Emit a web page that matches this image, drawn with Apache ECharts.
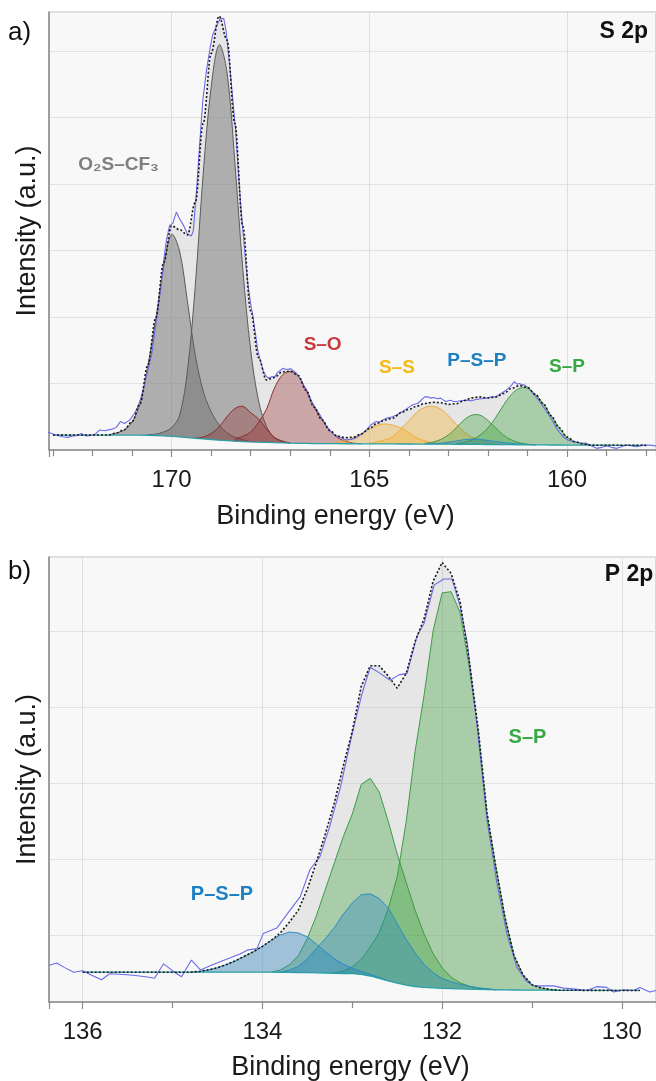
<!DOCTYPE html>
<html><head><meta charset="utf-8">
<script src="https://cdn.jsdelivr.net/npm/echarts@6/dist/echarts.min.js"></script>
<style>html,body{margin:0;padding:0;background:#fff}#c{width:656px;height:1081px}</style>
</head><body><div id="c"></div><script>
// ---------- Panel a) S 2p ----------
const E_S = [173.0,172.8,172.6,172.4,172.2,172.0,171.8,171.6,171.4,171.2,171.0,170.8,170.6,170.4,170.2,170.0,169.8,169.6,169.4,169.2,169.0,168.8,168.6,168.4,168.2,168.0,167.8,167.6,167.4,167.2,167.0,166.8,166.6,166.4,166.2,166.0,165.8,165.6,165.4,165.2,165.0,164.8,164.6,164.4,164.2,164.0,163.8,163.6,163.4,163.2,163.0,162.8,162.6,162.4,162.2,162.0,161.8,161.6,161.4,161.2,161.0,160.8,160.6,160.4,160.2,160.0,159.8,159.6,159.4,159.2,159.0,158.8,158.6,158.4,158.2,158.0];
const BG_S = [.225,.225,.225,.225,.225,.225,.225,.225,.225,.224,.224,.223,.222,.218,.212,.205,.196,.186,.176,.166,.157,.148,.140,.133,.127,.122,.118,.114,.110,.107,.104,.101,.099,.097,.096,.095,.095,.094,.094,.093,.093,.092,.092,.091,.090,.090,.089,.089,.088,.087,.087,.086,.085,.085,.084,.083,.082,.081,.080,.079,.078,.077,.076,.075,.075,.074,.074,.073,.073,.072,.072,.072,.071,.071,.071,.070];
const S_CF3_A = {from:171.6, amp:[0,0.03,0.08,0.2,0.47,1.05,1.75,2.55,3.04,2.8,2.05,1.25,0.72,0.42,0.23,0.12,0.06,0.03,0]};
const S_CF3_B = {from:170.6, amp:[0.01,0.02,0.06,0.13,0.32,1.0,2.3,4.0,5.3,5.95,5.55,4.2,2.6,1.38,0.62,0.24,0.08,0.03,0]};
const S_SO_A  = {from:169.4, amp:[0,0.03,0.09,0.2,0.36,0.49,0.53,0.44,0.35,0.2,0.08,0.02,0]};
const S_SO_B  = {from:168.4, amp:[0.03,0.08,0.15,0.3,0.5,0.82,1.02,1.08,1.02,0.8,0.55,0.36,0.2,0.09,0.04,0.01,0]};
const S_SS_A  = {from:166.0, amp:[0,0.02,0.05,0.09,0.15,0.22,0.28,0.3,0.28,0.24,0.17,0.09,0.05,0.02,0.01,0]};
const S_SS_B  = {from:165.0, amp:[0.01,0.03,0.06,0.11,0.23,0.35,0.48,0.55,0.57,0.53,0.43,0.3,0.19,0.11,0.06,0.03,0.01,0]};
const S_PSP   = {from:163.6, amp:[0,0.01,0.015,0.03,0.05,0.07,0.08,0.075,0.06,0.045,0.03,0.02,0.01,0.005,0]};
const S_SP_A  = {from:163.6, amp:[0.01,0.03,0.07,0.14,0.25,0.37,0.44,0.44,0.36,0.25,0.14,0.07,0.03,0.01,0]};
const S_SP_B  = {from:162.8, amp:[0.01,0.03,0.07,0.14,0.25,0.41,0.6,0.76,0.85,0.85,0.76,0.62,0.44,0.26,0.12,0.05,0.02,0]};
const RAW_S = [[173.13,0.27],[173.0,0.24],[172.88,0.22],[172.75,0.2],[172.63,0.19],[172.5,0.21],[172.37,0.22],[172.29,0.25],[172.2,0.22],[172.12,0.21],[171.95,0.23],[171.82,0.3],[171.7,0.29],[171.53,0.31],[171.4,0.34],[171.29,0.43],[171.19,0.4],[171.06,0.45],[170.94,0.55],[170.85,0.65],[170.77,0.8],[170.68,1.0],[170.6,1.2],[170.5,1.45],[170.43,1.75],[170.35,2.1],[170.26,2.5],[170.2,2.85],[170.13,3.16],[170.05,3.38],[169.97,3.41],[169.88,3.58],[169.8,3.48],[169.7,3.38],[169.6,3.25],[169.5,3.22],[169.45,3.3],[169.37,3.9],[169.29,4.6],[169.21,5.26],[169.12,5.7],[169.04,6.0],[168.96,6.25],[168.87,6.37],[168.77,6.49],[168.68,6.49],[168.62,6.3],[168.57,6.0],[168.51,5.65],[168.45,5.26],[168.38,4.8],[168.32,4.26],[168.26,3.75],[168.19,3.26],[168.13,2.85],[168.07,2.5],[168.0,2.2],[167.94,2.0],[167.88,1.75],[167.82,1.5],[167.75,1.33],[167.69,1.2],[167.62,1.12],[167.56,1.08],[167.47,1.1],[167.39,1.1],[167.33,1.16],[167.28,1.18],[167.18,1.23],[167.11,1.21],[167.06,1.2],[166.98,1.22],[166.93,1.23],[166.85,1.16],[166.76,1.08],[166.68,0.99],[166.6,0.92],[166.52,0.82],[166.45,0.72],[166.36,0.63],[166.27,0.55],[166.18,0.46],[166.1,0.38],[166.01,0.3],[165.88,0.22],[165.76,0.2],[165.67,0.17],[165.59,0.15],[165.45,0.16],[165.34,0.18],[165.2,0.24],[165.08,0.3],[164.95,0.38],[164.83,0.43],[164.74,0.42],[164.66,0.45],[164.55,0.48],[164.41,0.5],[164.3,0.53],[164.16,0.58],[164.03,0.63],[163.9,0.68],[163.78,0.7],[163.73,0.73],[163.6,0.8],[163.52,0.8],[163.45,0.78],[163.38,0.79],[163.28,0.77],[163.2,0.78],[163.12,0.75],[163.06,0.73],[162.95,0.75],[162.87,0.73],[162.8,0.73],[162.68,0.74],[162.55,0.75],[162.42,0.74],[162.3,0.76],[162.18,0.77],[162.05,0.78],[161.92,0.8],[161.8,0.8],[161.72,0.83],[161.67,0.86],[161.54,0.9],[161.42,0.96],[161.33,1.03],[161.26,0.99],[161.2,1.0],[161.14,0.98],[161.08,0.98],[160.97,0.93],[160.86,0.85],[160.73,0.76],[160.6,0.65],[160.52,0.58],[160.43,0.5],[160.35,0.42],[160.27,0.33],[160.18,0.26],[160.1,0.2],[159.98,0.15],[159.85,0.125],[159.68,0.11],[159.51,0.1],[159.38,0.06],[159.25,0.025],[159.12,0.04],[159.0,0.06],[158.87,0.04],[158.74,0.025],[158.62,0.05],[158.49,0.075],[158.36,0.06],[158.24,0.05],[158.1,0.07],[157.98,0.075],[157.85,0.07],[157.75,0.06]];
const LABELS_S = [
  {t:'O\u2082S\u2013CF\u2083', e:171.34, i:4.29, c:'#7f7f7f'},
  {t:'S\u2013O', e:166.18, i:1.58, c:'#c8383d'},
  {t:'S\u2013S', e:164.3, i:1.23, c:'#f5b915'},
  {t:'P\u2013S\u2013P', e:162.28, i:1.35, c:'#1c80c2'},
  {t:'S\u2013P', e:160.0, i:1.25, c:'#37a845'}
];
const TITLE_S = {t:'S 2p', e:157.95, i:6.29};

// ---------- Panel b) P 2p ----------
const E_P = [136.0,135.9,135.8,135.7,135.6,135.5,135.4,135.3,135.2,135.1,135.0,134.9,134.8,134.7,134.6,134.5,134.4,134.3,134.2,134.1,134.0,133.9,133.8,133.7,133.6,133.5,133.4,133.3,133.2,133.1,133.0,132.9,132.8,132.7,132.6,132.5,132.4,132.3,132.2,132.1,132.0,131.9,131.8,131.7,131.6,131.5,131.4,131.3,131.2,131.1,131.0,130.9,130.8,130.7,130.6,130.5,130.4,130.3,130.2,130.1,130.0,129.9,129.8];
const BG_P = [.51,.51,.51,.51,.51,.51,.51,.51,.51,.51,.51,.51,.51,.51,.51,.51,.51,.51,.51,.51,.51,.51,.509,.508,.506,.504,.502,.499,.496,.493,.49,.48,.46,.43,.395,.365,.34,.322,.31,.303,.298,.294,.29,.286,.283,.281,.279,.277,.276,.275,.274,.273,.273,.272,.272,.272,.271,.271,.271,.27,.27,.27,.27];
const P_PSP_A = {from:134.8, amp:[0,0.01,0.03,0.06,0.1,0.15,0.21,0.27,0.34,0.42,0.49,0.53,0.52,0.47,0.38,0.28,0.19,0.12,0.07,0.04,0.02,0.01,0]};
const P_SP_B  = {from:133.2, amp:[0,0.03,0.09,0.2,0.38,0.6,0.95,1.4,2.15,3.1,3.85,4.7,5.2,5.22,4.95,4.25,3.4,2.3,1.6,0.95,0.45,0.2,0.07,0.03,0.01,0]};
const P_SP_A  = {from:133.9, amp:[0,0.03,0.1,0.22,0.45,0.75,1.1,1.45,1.8,2.1,2.5,2.6,2.45,2.1,1.7,1.35,1.0,0.7,0.45,0.27,0.15,0.08,0.04,0.02,0.01,0]};
const P_PSP_B = {from:133.8, amp:[0,0.03,0.08,0.18,0.32,0.45,0.6,0.78,0.93,1.05,1.08,1.05,0.96,0.78,0.6,0.44,0.3,0.2,0.13,0.09,0.06,0.04,0.02,0.01,0]};
const RAW_P = [[136.37,0.6],[136.29,0.63],[136.2,0.57],[136.1,0.51],[136.0,0.53],[135.9,0.47],[135.79,0.41],[135.7,0.49],[135.55,0.48],[135.44,0.47],[135.3,0.45],[135.2,0.43],[135.1,0.62],[134.99,0.52],[134.9,0.45],[134.79,0.67],[134.69,0.54],[134.55,0.61],[134.4,0.68],[134.25,0.75],[134.17,0.8],[134.06,0.82],[133.99,1.02],[133.84,1.09],[133.69,1.33],[133.58,1.5],[133.47,1.86],[133.36,2.03],[133.25,2.43],[133.13,2.95],[133.0,3.65],[132.89,4.18],[132.8,4.52],[132.69,4.44],[132.58,4.35],[132.48,4.42],[132.39,4.44],[132.28,4.93],[132.2,5.1],[132.09,5.6],[131.98,5.68],[131.89,5.68],[131.8,5.32],[131.72,4.84],[131.61,3.74],[131.5,2.51],[131.39,1.68],[131.28,1.02],[131.17,0.58],[131.06,0.39],[130.98,0.33],[130.87,0.33],[130.76,0.33],[130.65,0.3],[130.54,0.29],[130.39,0.27],[130.28,0.32],[130.17,0.31],[130.09,0.25],[129.98,0.28],[129.87,0.27],[129.8,0.31],[129.69,0.25],[129.62,0.27]];
const LABELS_P = [
  {t:'P\u2013S\u2013P', e:134.45, i:1.53, c:'#1c80c2'},
  {t:'S\u2013P', e:131.05, i:3.59, c:'#37a845'}
];
const TITLE_P = {t:'P 2p', e:129.65, i:5.74};

// ---------- styles ----------
const FONT = "'Liberation Sans', Arial, Helvetica, sans-serif";
const ST = {
  gray:  {fill:'rgba(98,98,98,0.42)',  stroke:'#5a5a5a'},
  red:   {fill:'rgba(150,45,45,0.35)', stroke:'#8b2e2e'},
  orange:{fill:'rgba(244,178,52,0.38)',stroke:'#eeab3a'},
  green: {fill:'rgba(60,160,60,0.36)', stroke:'#3e9b45'},
  blue:  {fill:'rgba(35,130,190,0.36)',stroke:'#2b8cc4'},
  env:   {fill:'rgba(190,190,190,0.30)', stroke:null}
};

function idxOf(grid, e){ return grid.findIndex(v => Math.abs(v - e) < 1e-6); }
function fitOf(grid, bg, comps){
  const out = bg.slice();
  comps.forEach(c => { const s = idxOf(grid, c.from); c.amp.forEach((a,k) => { out[s+k] += a; }); });
  return out;
}
function band(gi, rows, st, smooth, z){
  return {
    type:'custom', xAxisIndex:gi, yAxisIndex:gi, z, silent:true, clip:true,
    data: rows, encode:{x:0, y:[1,2]},
    renderItem(params, api){
      if (params.dataIndex !== 0) return null;
      const up = rows.map(r => api.coord([r[0], r[2]]));
      const lo = rows.map(r => api.coord([r[0], r[1]])).reverse();
      const ch = [{type:'polygon', shape:{points: up.concat(lo), smooth}, style:{fill: st.fill, stroke: null}}];
      if (st.stroke) ch.push({type:'polyline', shape:{points: up, smooth}, style:{fill: null, stroke: st.stroke, lineWidth: 1}});
      return {type:'group', children: ch};
    }
  };
}
function compBand(gi, grid, bg, comp, st, smooth, z){
  const s = idxOf(grid, comp.from);
  const rows = comp.amp.map((a,k) => [grid[s+k], bg[s+k], bg[s+k] + a]);
  return band(gi, rows, st, smooth, z);
}

const compsS = [[S_CF3_A,'gray'],[S_CF3_B,'gray'],[S_SO_A,'red'],[S_SO_B,'red'],[S_SS_A,'orange'],[S_SS_B,'orange'],[S_SP_A,'green'],[S_SP_B,'green'],[S_PSP,'blue']];
const compsP = [[P_SP_B,'green'],[P_SP_A,'green'],[P_PSP_A,'blue'],[P_PSP_B,'blue']];
const FIT_S = fitOf(E_S, BG_S, compsS.map(c => c[0]));
const FIT_P = fitOf(E_P, BG_P, compsP.map(c => c[0]));

function panelSeries(gi, grid, bg, fit, comps, raw, smooth){
  const s = [];
  s.push(band(gi, grid.map((e,i) => [e, bg[i], fit[i]]), ST.env, smooth, 1));
  comps.forEach(([c, k]) => s.push(compBand(gi, grid, bg, c, ST[k], smooth, 2)));
  s.push({type:'line', xAxisIndex:gi, yAxisIndex:gi, z:3, silent:true, symbol:'none', data: grid.map((e,i)=>[e,bg[i]]), lineStyle:{color:'#2a9fa8', width:1.3}});
  s.push({type:'line', xAxisIndex:gi, yAxisIndex:gi, z:4, silent:true, symbol:'none', data: raw, lineStyle:{color:'#6b6be8', width:1.1}});
  s.push({type:'line', xAxisIndex:gi, yAxisIndex:gi, z:5, silent:true, symbol:'none', smooth: smooth || false, smoothMonotone:'x', data: grid.map((e,i)=>[e,fit[i]]), lineStyle:{color:'#1a1a1a', width:1.6, type:[2,2]}});
  return s;
}

const xCommon = (min, max, split, minorSplit, namePad) => ({
  type:'value', inverse:true, min, max, splitNumber: split,
  name:'Binding energy (eV)', nameLocation:'middle', nameGap:53,
  nameTextStyle:{fontSize:27, color:'#1a1a1a', fontFamily:FONT, padding:namePad},
  axisLine:{show:true, onZero:false, lineStyle:{color:'#8a8a8a', width:1.5}},
  axisTick:{show:true, inside:false, length:7, lineStyle:{color:'#8a8a8a', width:1.2}},
  minorTick:{show:true, splitNumber:minorSplit, length:6, lineStyle:{color:'#8a8a8a', width:1.2}},
  axisLabel:{fontSize:24, color:'#1a1a1a', fontFamily:FONT, margin:18, showMinLabel:false, showMaxLabel:false,
    formatter: v => (Math.abs(v - Math.round(v)) < 1e-6 ? String(Math.round(v)) : '')},
  splitLine:{show:true, lineStyle:{color:'#dedede', width:1}},
  minorSplitLine:{show:false}
});
const yCommon = (min, max) => ({
  type:'value', min, max, splitNumber:6,
  name:'Intensity (a.u.)', nameLocation:'middle', nameGap:8,
  nameTextStyle:{fontSize:27, color:'#1a1a1a', fontFamily:FONT},
  axisLine:{show:true, onZero:false, lineStyle:{color:'#8a8a8a', width:1.5}},
  axisTick:{show:false}, axisLabel:{show:false},
  splitLine:{show:true, lineStyle:{color:'#e2e2e2', width:1}}
});

const option = {
  animation:false,
  textStyle:{fontFamily:FONT},
  grid:[
    {left:49, top:12, width:607, height:438, show:true, backgroundColor:'#f8f8f8', borderColor:'#b8b8b8', borderWidth:1, containLabel:false, outerBoundsMode:'none'},
    {left:49, top:557, width:607, height:445, show:true, backgroundColor:'#f8f8f8', borderColor:'#b8b8b8', borderWidth:1, containLabel:false, outerBoundsMode:'none'}
  ],
  xAxis:[
    Object.assign(xCommon(157.75, 173.1, 3, 5, [0,34,0,0]), {gridIndex:0}),
    Object.assign(xCommon(129.62, 136.375, 3, 2, [0,4,0,0]), {gridIndex:1, nameGap:52})
  ],
  yAxis:[
    Object.assign(yCommon(0, 6.59), {gridIndex:0}),
    Object.assign(yCommon(0.118, 5.97), {gridIndex:1})
  ],
  series: [].concat(
    panelSeries(0, E_S, BG_S, FIT_S, compsS, RAW_S, 0.35),
    panelSeries(1, E_P, BG_P, FIT_P, compsP, RAW_P, 0)
  )
};

const chart = echarts.init(document.getElementById('c'), null, {renderer:'canvas'});
chart.setOption(option);

function txt(x, y, text, color, size, weight, align){
  return {type:'text', x, y, z:20, silent:true,
    style:{text, fill:color, font: weight + ' ' + size + 'px ' + FONT, fontSize:size, fontWeight:weight, fontFamily:FONT,
      textAlign:align, align, textVerticalAlign:'middle', verticalAlign:'middle'}};
}
const g = [];
LABELS_S.forEach(l => { const p = chart.convertToPixel({gridIndex:0}, [l.e, l.i]); g.push(txt(p[0], p[1], l.t, l.c, 19, 'bold', 'center')); });
LABELS_P.forEach(l => { const p = chart.convertToPixel({gridIndex:1}, [l.e, l.i]); g.push(txt(p[0], p[1], l.t, l.c, 20, 'bold', 'center')); });
let p = chart.convertToPixel({gridIndex:0}, [TITLE_S.e, TITLE_S.i]); g.push(txt(p[0], p[1], TITLE_S.t, '#111', 23, 'bold', 'right'));
p = chart.convertToPixel({gridIndex:1}, [TITLE_P.e, TITLE_P.i]); g.push(txt(p[0], p[1], TITLE_P.t, '#111', 23, 'bold', 'right'));
g.push(txt(8, 33, 'a)', '#111', 26, 'normal', 'left'));
g.push(txt(8, 572, 'b)', '#111', 26, 'normal', 'left'));
chart.setOption({graphic: g});
</script></body></html>
